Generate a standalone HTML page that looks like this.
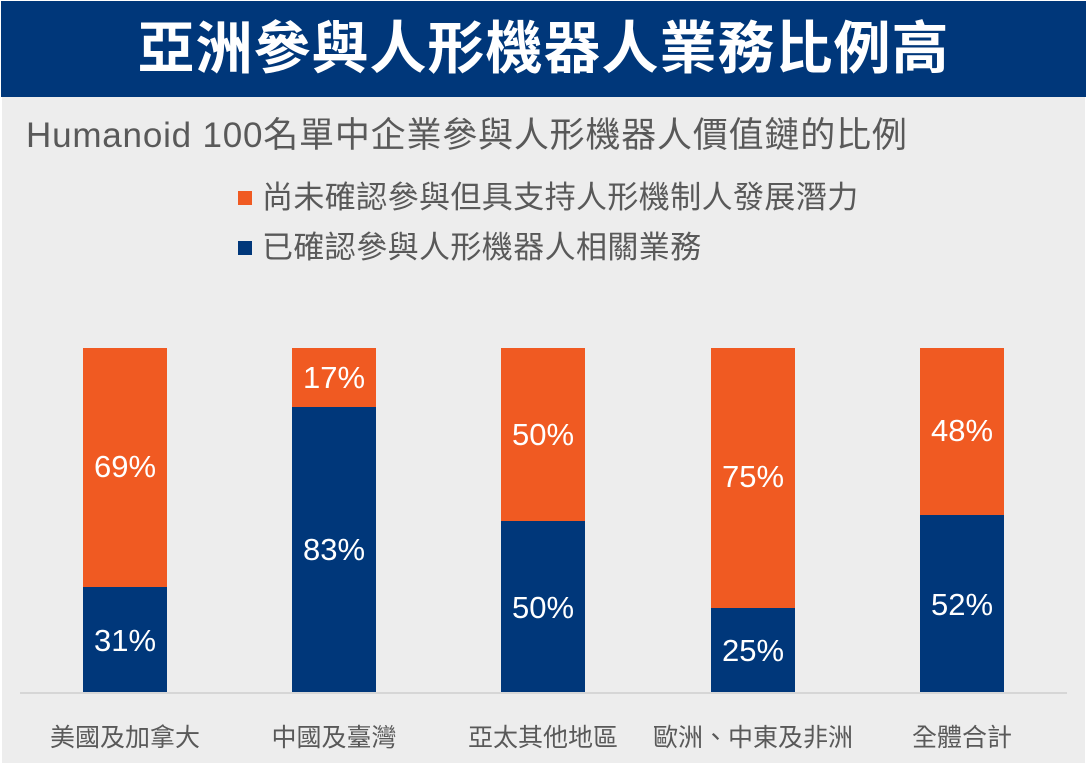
<!DOCTYPE html><html><head><meta charset="utf-8"><style>
body{margin:0;width:1090px;height:766px;background:#fff;position:relative;overflow:hidden;font-family:"Liberation Sans","Noto Sans CJK TC",sans-serif}
.bg{position:absolute;left:2px;top:1px;width:1083px;height:762px;background:#ededed}
.title{position:absolute;left:1px;top:1px;width:1085px;height:96px;background:#00377a;color:#fff;font-size:57px;font-weight:bold;text-align:center;line-height:96px;letter-spacing:1px}
.sub{position:absolute;left:26px;top:107px;font-size:35px;letter-spacing:0.8px;color:#595959;white-space:nowrap}
.leg{position:absolute;left:238px;font-size:31px;letter-spacing:0.4px;color:#595959;white-space:nowrap}
.leg i{display:inline-block;width:14px;height:14px;margin-right:10px;vertical-align:3px}
.b{position:absolute;width:84px}
.b span{position:absolute;width:100%;text-align:center;color:#fff;font-size:31px}
.o{background:#f05a22}.u{background:#00377a}
.ax{position:absolute;left:20px;top:692px;width:1047px;height:2px;background:#d6d6d6}
.lab{position:absolute;top:718px;width:240px;text-align:center;font-size:25px;color:#595959;white-space:nowrap}
</style></head><body>
<div class="bg"></div>
<div class="title">亞洲參與人形機器人業務比例高</div>
<div class="sub">Humanoid 100名單中企業參與人形機器人價值鏈的比例</div>
<div class="leg" style="top:172px"><i style="background:#f05a22"></i>尚未確認參與但具支持人形機制人發展潛力</div>
<div class="leg" style="top:222px"><i style="background:#00377a"></i>已確認參與人形機器人相關業務</div>
<div class="b o" style="left:83px;top:348px;height:239px"><span style="top:101px">69%</span></div>
<div class="b u" style="left:83px;top:587px;height:106px"><span style="top:36px">31%</span></div>
<div class="b o" style="left:292px;top:348px;height:59px"><span style="top:12px">17%</span></div>
<div class="b u" style="left:292px;top:407px;height:286px"><span style="top:125px">83%</span></div>
<div class="b o" style="left:501px;top:348px;height:173px"><span style="top:69px">50%</span></div>
<div class="b u" style="left:501px;top:521px;height:172px"><span style="top:69px">50%</span></div>
<div class="b o" style="left:711px;top:348px;height:260px"><span style="top:111px">75%</span></div>
<div class="b u" style="left:711px;top:608px;height:85px"><span style="top:25px">25%</span></div>
<div class="b o" style="left:920px;top:348px;height:167px"><span style="top:65px">48%</span></div>
<div class="b u" style="left:920px;top:515px;height:178px"><span style="top:72px">52%</span></div>
<div class="ax"></div>
<div class="lab" style="left:5px">美國及加拿大</div>
<div class="lab" style="left:214px">中國及臺灣</div>
<div class="lab" style="left:423px">亞太其他地區</div>
<div class="lab" style="left:633px">歐洲、中東及非洲</div>
<div class="lab" style="left:842px">全體合計</div>
</body></html>
